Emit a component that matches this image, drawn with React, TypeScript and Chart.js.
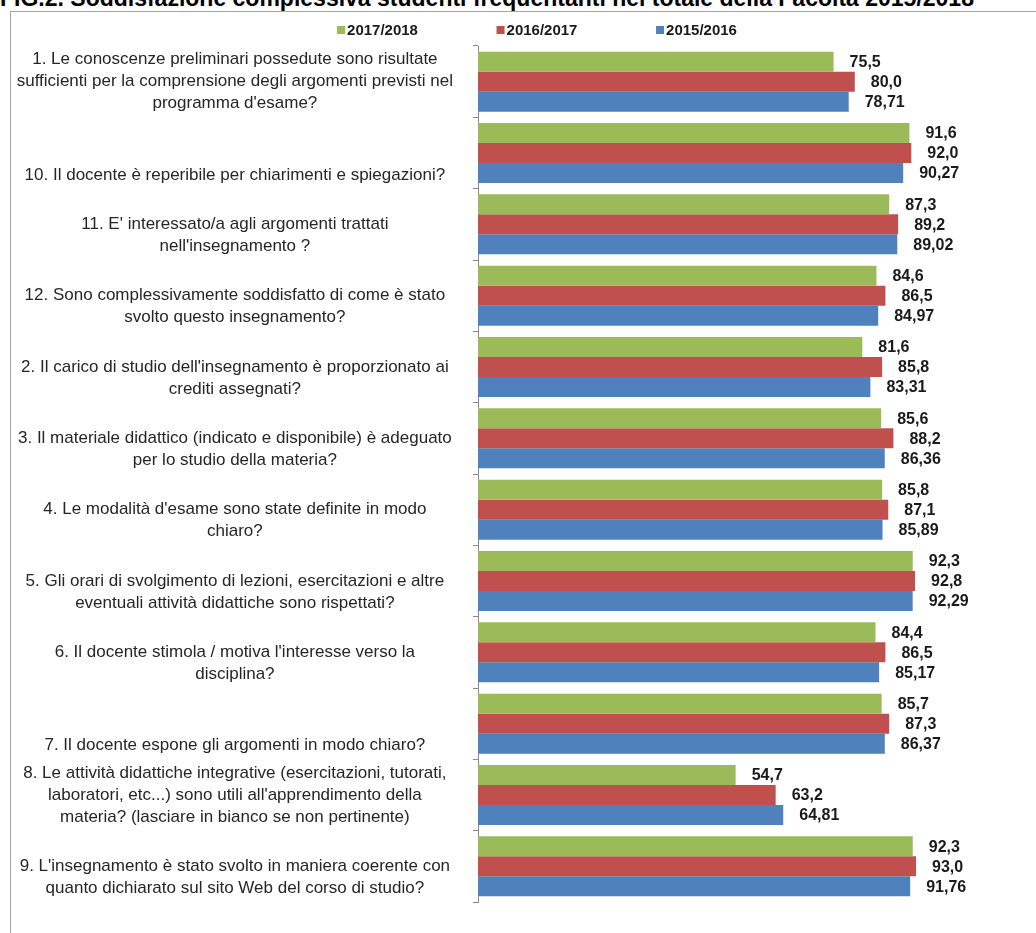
import React, { useEffect, useRef } from "react";
import { Chart, registerables } from "chart.js";

Chart.register(...registerables);

const TITLE = "FIG.2. Soddisfazione complessiva studenti frequentanti nel totale della Facoltà 2015/2018";

const categories: string[][] = [
  ["1. Le conoscenze preliminari possedute sono risultate", "sufficienti per la comprensione degli argomenti previsti nel", "programma d'esame?"],
  ["", "", "10. Il docente è reperibile per chiarimenti e spiegazioni?"],
  ["", "11. E' interessato/a agli argomenti trattati", "nell'insegnamento ?"],
  ["", "12. Sono complessivamente soddisfatto di come è stato", "svolto questo insegnamento?"],
  ["", "2. Il carico di studio dell'insegnamento è proporzionato ai", "crediti assegnati?"],
  ["", "3. Il materiale didattico (indicato e disponibile) è adeguato", "per lo studio della materia?"],
  ["", "4. Le modalità d'esame sono state definite in modo", "chiaro?"],
  ["", "5. Gli orari di svolgimento di lezioni, esercitazioni e altre", "eventuali attività didattiche sono rispettati?"],
  ["", "6. Il docente stimola / motiva l'interesse verso la", "disciplina?"],
  ["", "", "7. Il docente espone gli argomenti in modo chiaro?"],
  ["8. Le attività didattiche integrative (esercitazioni, tutorati,", "laboratori, etc...) sono utili all'apprendimento della", "materia? (lasciare in bianco se non pertinente)"],
  ["", "9. L'insegnamento è stato svolto in maniera coerente con", "quanto dichiarato sul sito Web del corso di studio?"],
];

const seriesNames = ["2017/2018", "2016/2017", "2015/2016"];
const values2017_2018 = [75.5, 91.6, 87.3, 84.6, 81.6, 85.6, 85.8, 92.3, 84.4, 85.7, 54.7, 92.3];
const values2016_2017 = [80.0, 92.0, 89.2, 86.5, 85.8, 88.2, 87.1, 92.8, 86.5, 87.3, 63.2, 93.0];
const values2015_2016 = [78.71, 90.27, 89.02, 84.97, 83.31, 86.36, 85.89, 92.29, 85.17, 86.37, 64.81, 91.76];
const seriesDecimals = [1, 1, 2];
const seriesColors = ["#9BBB59", "#C0504D", "#4F81BD"];

const FONT = "'Liberation Sans', Arial, sans-serif";

const valueLabelPlugin = {
  id: "valueLabels",
  afterDatasetsDraw(chart: any) {
    const ctx = chart.ctx;
    ctx.save();
    ctx.font = `bold 16px ${FONT}`;
    ctx.fillStyle = "#1a1a1a";
    ctx.textAlign = "left";
    ctx.textBaseline = "middle";
    chart.data.datasets.forEach((ds: any, di: number) => {
      const meta = chart.getDatasetMeta(di);
      meta.data.forEach((el: any, i: number) => {
        const v = ds.data[i] as number;
        const txt = v.toFixed(seriesDecimals[di]).replace(".", ",");
        ctx.fillText(txt, el.x + 16, el.y + 1);
      });
    });
    ctx.restore();
  },
};

const legendPlugin = {
  id: "topLegend",
  afterDraw(chart: any) {
    const ctx = chart.ctx;
    ctx.save();
    ctx.font = `bold 15px ${FONT}`;
    ctx.textBaseline = "middle";
    ctx.textAlign = "left";
    const cx = 526;
    const pitch = 159.5;
    const y = 18;
    chart.data.datasets.forEach((ds: any, i: number) => {
      const tw = ctx.measureText(ds.label).width;
      const w = 10 + tw;
      const x = cx + (i - 1) * pitch - w / 2;
      ctx.fillStyle = ds.backgroundColor;
      ctx.fillRect(x, y - 4, 8, 8);
      ctx.fillStyle = "#1a1a1a";
      ctx.fillText(ds.label, x + 10, y + 1);
    });
    ctx.restore();
  },
};

export default function App() {
  const canvasRef = useRef<HTMLCanvasElement | null>(null);

  useEffect(() => {
    if (!canvasRef.current) return;
    const seriesValues = [values2017_2018, values2016_2017, values2015_2016];
    const chart = new Chart(canvasRef.current, {
      type: "bar",
      data: {
        labels: categories,
        datasets: seriesNames.map((name, i) => ({
          label: name,
          data: seriesValues[i],
          backgroundColor: seriesColors[i],
          borderWidth: 0,
          categoryPercentage: 0.84,
          barPercentage: 1.0,
        })),
      },
      options: {
        indexAxis: "y",
        responsive: false,
        animation: false,
        devicePixelRatio: 1,
        layout: { padding: { top: 34, bottom: 31, right: 87, left: 0 } },
        plugins: {
          legend: { display: false },
          title: { display: false },
          tooltip: { enabled: false },
        },
        scales: {
          x: {
            display: false,
            min: 0,
            max: 100,
          },
          y: {
            type: "category",
            offset: true,
            afterFit: (scale: any) => {
              scale.width = 467;
              scale.paddingTop = 0;
              scale.paddingBottom = 0;
            },
            grid: {
              display: true,
              drawOnChartArea: false,
              drawTicks: true,
              tickLength: 5,
              color: "#8a8a8a",
              offset: true,
            },
            border: { display: true, color: "#8a8a8a", width: 1 },
            ticks: {
              autoSkip: false,
              crossAlign: "center",
              padding: 20,
              color: "#262626",
              font: { family: FONT, size: 17, lineHeight: "22px" as any },
            },
          },
        },
      },
      plugins: [valueLabelPlugin, legendPlugin],
    });
    return () => chart.destroy();
  }, []);

  return (
    <div
      style={{
        position: "absolute",
        left: 0,
        top: 0,
        width: 1036,
        height: 933,
        overflow: "hidden",
        background: "#ffffff",
      }}
    >
      <div
        style={{
          position: "absolute",
          left: 0,
          top: -14,
          whiteSpace: "nowrap",
          font: `bold 23px/24px ${FONT}`,
          color: "#000",
        }}
      >
        {TITLE}
      </div>
      <div
        style={{
          position: "absolute",
          left: 10,
          top: 11,
          width: 1040,
          height: 940,
          borderLeft: "1px solid #a6a6a6",
          borderTop: "1px solid #a6a6a6",
          background: "#fff",
        }}
      >
        <canvas ref={canvasRef} width={1025} height={921} style={{ display: "block" }} />
      </div>
    </div>
  );
}
